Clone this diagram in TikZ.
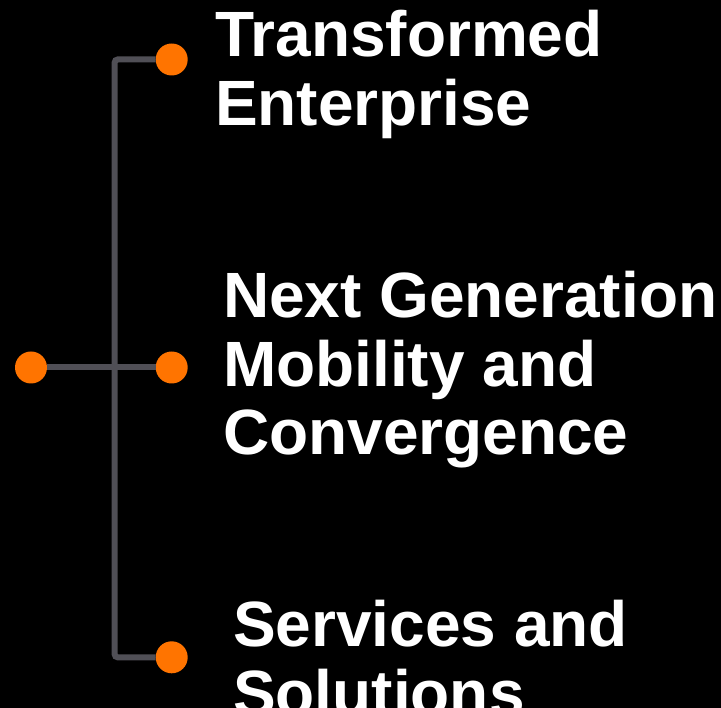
\documentclass[tikz,border=0pt]{standalone}
\usepackage{fontspec}
\setmainfont{Liberation Sans}
\begin{document}
\begin{tikzpicture}[x=1pt,y=1pt,
  dot/.style={circle,fill=dotorange,draw=none,minimum size=32pt,inner sep=0pt,outer sep=0pt},
  conn/.style={draw=linegray,line width=6pt,rounded corners=3pt},
  lbl/.style={anchor=base west,inner sep=0pt,outer sep=0pt,text=white,font=\fontsize{64}{68.5}\selectfont\bfseries}
]
\definecolor{dotorange}{RGB}{255,116,0}
\definecolor{linegray}{RGB}{80,79,86}
\fill[black] (0,0) rectangle (721,-708);
\useasboundingbox (0,0) rectangle (721,-708);
\node[dot] (L) at (31,-367.5) {};
\coordinate (J) at (114.7,-367.5);
\node[dot] (M) at (171.7,-367.5) {};
\node[dot] (T) at (171.7,-59.5) {};
\node[dot] (B) at (171.7,-657.3) {};
\draw[conn] (L) -- (M);
\draw[conn] (T) -| (J) |- (B);
\node[lbl] (t1) at (215,-57) {\begin{tabular}[t]{@{}l@{}}Transformed\\Enterprise\end{tabular}};
\node[lbl] (t2) at (223,-318) {\begin{tabular}[t]{@{}l@{}}Next Generation\\Mobility and\\Convergence\end{tabular}};
\node[lbl] (t3) at (233,-647) {\begin{tabular}[t]{@{}l@{}}Services and\\Solutions\end{tabular}};
\end{tikzpicture}
\end{document}
